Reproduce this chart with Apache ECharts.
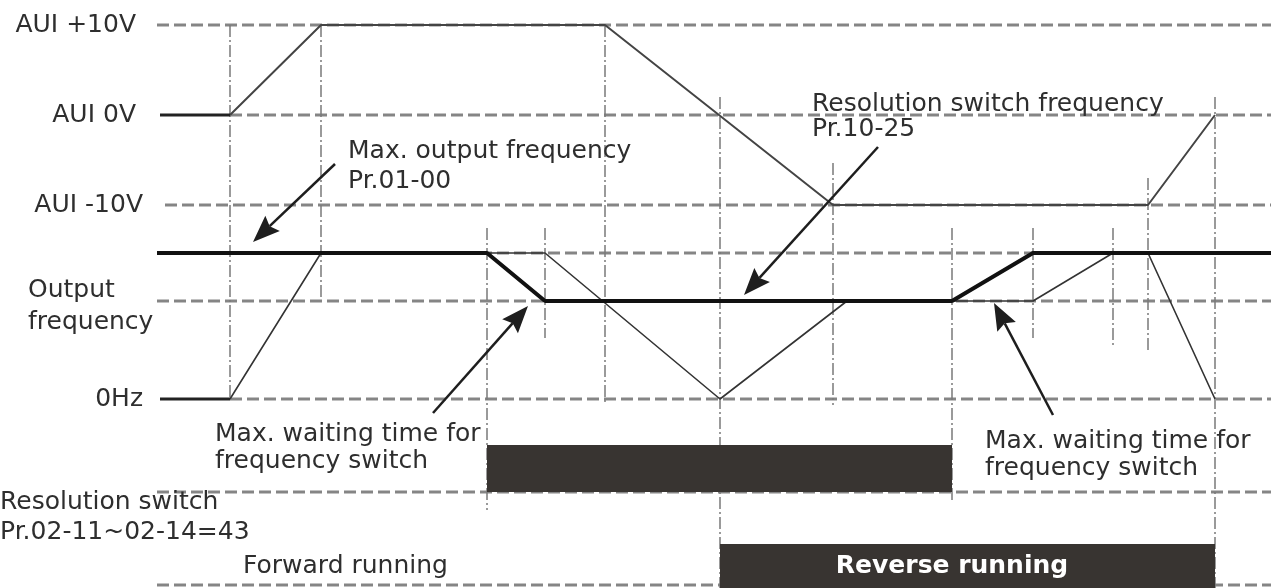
<!DOCTYPE html>
<html>
<head>
<meta charset="utf-8">
<script src="https://cdn.jsdelivr.net/npm/echarts@6/dist/echarts.min.js"></script>
<style>
  html, body { margin: 0; padding: 0; background: #fff; }
  #main { width: 1271px; height: 588px; }
</style>
</head>
<body>
<div id="main"></div>
<script>
// timing diagram: axis units are read straight off the picture (time to the right, level downward)

// horizontal reference levels
var levelY     = [25, 115, 205, 253, 301, 399, 492, 585];
var levelStart = [157, 230, 165, 157, 157, 230, 157, 157];
var levelEnd   = 1271;

// vertical time marks (dash-dot)
var timeMarks  = [230, 321, 487, 545, 605, 720, 833, 952, 1033, 1113, 1148, 1215];
var markTop    = [25, 25, 228, 228, 25, 97, 163, 228, 228, 228, 178, 97];
var markBottom = [399, 297, 510, 338, 405, 588, 405, 500, 338, 345, 352, 588];

// AUI voltage
var auiVolt = [[230, 115], [321, 25], [605, 25], [833, 205], [1148, 205], [1215, 115]];
var auiIdle = [[160, 115], [230, 115]];
// frequency command (thin)
var freqCmd = [[230, 399], [321, 253], [545, 253], [720, 399], [847, 301], [1033, 301], [1113, 253], [1148, 253], [1215, 399]];
var freqIdle = [[160, 399], [230, 399]];
// actual output frequency (thick)
var freqOut = [[157, 253], [487, 253], [545, 301], [952, 301], [1033, 253], [1271, 253]];

// signal bars: [start, end, top, bottom]
var resSwitchBar = [487, 952, 445, 492];
var reverseBar   = [720, 1215, 544, 588];

// annotation arrows: [fromX, fromY, tipX, tipY]
var arrowLines = [
    [335, 164, 253, 242],
    [878, 147, 744, 295],
    [433, 413, 528, 306],
    [1053, 415, 994, 303]
];

var dom = document.getElementById("main");
var myChart = echarts.init(dom);

var gray = '#858585';
var txt = '#2e2e2e';
var font = '25px "DejaVu Sans"';

var series = [];

// dashed levels
for (var i = 0; i < levelY.length; i++) {
    series.push({
        type: 'line', symbol: 'none', silent: true, z: 1,
        data: [[levelStart[i], levelY[i]], [levelEnd, levelY[i]]],
        lineStyle: {color: gray, width: 3, type: [12, 5]}
    });
}
// dash-dot marks
for (var j = 0; j < timeMarks.length; j++) {
    series.push({
        type: 'line', symbol: 'none', silent: true, z: 1,
        data: [[timeMarks[j], markTop[j]], [timeMarks[j], markBottom[j]]],
        lineStyle: {color: '#7a7a7a', width: 1.5, type: [12, 3, 2, 3]}
    });
}

series.push({type: 'line', symbol: 'none', z: 3, data: auiVolt, lineStyle: {color: '#444', width: 2}});
series.push({type: 'line', symbol: 'none', z: 3, data: auiIdle, lineStyle: {color: '#222', width: 3}});
series.push({type: 'line', symbol: 'none', z: 3, data: freqCmd, lineStyle: {color: '#333', width: 1.6}});
series.push({type: 'line', symbol: 'none', z: 3, data: freqIdle, lineStyle: {color: '#222', width: 3}});
series.push({type: 'line', symbol: 'none', z: 4, data: freqOut, lineStyle: {color: '#111', width: 4}});

// bars
series.push({
    type: 'custom', z: 2,
    data: [resSwitchBar, reverseBar],
    renderItem: function (params, api) {
        var p0 = api.coord([api.value(0), api.value(2)]);
        var p1 = api.coord([api.value(1), api.value(3)]);
        return {
            type: 'rect',
            shape: {x: p0[0], y: p0[1], width: p1[0] - p0[0], height: p1[1] - p0[1]},
            style: {fill: '#383431'}
        };
    }
});

// arrows (line + filled head)
series.push({
    type: 'custom', z: 5,
    data: arrowLines,
    renderItem: function (params, api) {
        var a = api.coord([api.value(0), api.value(1)]);
        var b = api.coord([api.value(2), api.value(3)]);
        var dx = b[0] - a[0], dy = b[1] - a[1];
        var len = Math.sqrt(dx * dx + dy * dy);
        var ux = dx / len, uy = dy / len;
        var hl = 27, hw = 10.5, notch = 4;
        var bx = b[0] - ux * hl, by = b[1] - uy * hl;
        var nx = b[0] - ux * (hl - notch), ny = b[1] - uy * (hl - notch);
        return {
            type: 'group',
            children: [
                {type: 'line', shape: {x1: a[0], y1: a[1], x2: nx, y2: ny},
                 style: {stroke: '#1e1e1e', lineWidth: 2.5}},
                {type: 'polygon', shape: {points: [
                    [b[0], b[1]],
                    [bx - uy * hw, by + ux * hw],
                    [nx, ny],
                    [bx + uy * hw, by - ux * hw]
                ]}, style: {fill: '#1e1e1e'}}
            ]
        };
    }
});

function label(text, x, y, align, extra) {
    var st = {text: text, font: font, fill: txt, textAlign: align || 'left', textVerticalAlign: 'middle',
              align: align || 'left', verticalAlign: 'middle'};
    if (extra) { for (var p in extra) st[p] = extra[p]; }
    return {type: 'text', x: x, y: y, z: 10, style: st};
}

var option = {
    animation: false,
    grid: {left: 0, right: 0, top: 0, bottom: 0},
    xAxis: {type: 'value', min: 0, max: 1271, show: false},
    yAxis: {type: 'value', min: 0, max: 588, inverse: true, show: false},
    series: series,
    graphic: [
        label('AUI +10V', 136, 25, 'right'),
        label('AUI 0V', 136, 115, 'right'),
        label('AUI -10V', 143, 205, 'right'),
        label('Output', 28, 290),
        label('frequency', 28, 322),
        label('0Hz', 143, 399, 'right'),
        label('Max. output frequency', 348, 151),
        label('Pr.01-00', 348, 181),
        label('Resolution switch frequency', 812, 104),
        label('Pr.10-25', 812, 129),
        label('Max. waiting time for', 215, 434),
        label('frequency switch', 215, 461),
        label('Max. waiting time for', 985, 441),
        label('frequency switch', 985, 468),
        label('Resolution switch', 0, 502),
        label('Pr.02-11~02-14=43', 0, 532),
        label('Forward running', 243, 566),
        label('Reverse running', 952, 566, 'center', {fill: '#ffffff', font: 'bold 25px "DejaVu Sans"'})
    ]
};

if (option && typeof option === "object") {
    myChart.setOption(option, true);
}
</script>
</body>
</html>
